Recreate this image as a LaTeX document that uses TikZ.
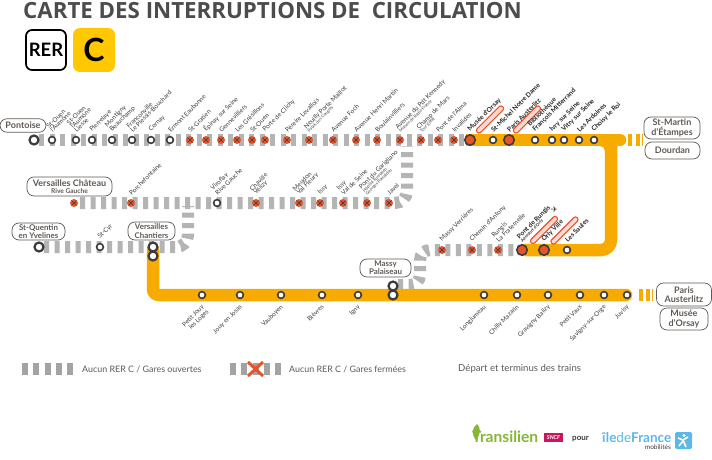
\documentclass[tikz,border=0pt]{standalone}
\usepackage{fontspec}
\setmainfont{Lato}
\newfontfamily\titlefont{Open Sans}
\newfontfamily\symfont{DejaVu Sans}
\definecolor{rergold}{HTML}{F7AB00}
\definecolor{rerC}{HTML}{FFC800}
\definecolor{tick}{HTML}{B4B4B4}
\definecolor{legtick}{HTML}{A3A3A3}
\definecolor{ink}{HTML}{3C3C3C}
\definecolor{closedred}{HTML}{E8532B}
\definecolor{pillgrey}{HTML}{5E5A56}
\definecolor{tgreen}{HTML}{86B833}
\definecolor{idfblue}{HTML}{5DB7E8}
\definecolor{sncfred}{HTML}{C8175E}
\tikzset{
  goldline/.style={draw=rergold,line width=12.5pt},
  greyline/.style={draw=tick,line width=12pt,dash pattern=on 5pt off 5.5pt},
  halt/.style={circle,draw=ink,fill=white,line width=1.6pt,minimum size=6.8pt,inner sep=0pt},
  bighalt/.style={circle,draw=ink,fill=white,line width=2.2pt,minimum size=9pt,inner sep=0pt},
  shut/.style={circle,fill=closedred,draw=none,minimum size=8pt,inner sep=0pt,
    path picture={\draw[ink,line width=.7pt] (path picture bounding box.center)++(-2.4pt,-2.4pt) -- ++(4.8pt,4.8pt) (path picture bounding box.center)++(-2.4pt,2.4pt) -- ++(4.8pt,-4.8pt);}},
  shutbig/.style={circle,fill=closedred,draw=ink,line width=1.6pt,minimum size=10.5pt,inner sep=0pt},
  lab/.style={rotate=45,anchor=south west,inner sep=0pt,font=\fontsize{6.35}{5.3}\selectfont,text=ink,align=left},
  labb/.style={lab,font=\fontsize{6.6}{5.3}\selectfont\bfseries,text=black!85},
  lablow/.style={rotate=45,anchor=north east,inner sep=0pt,font=\fontsize{6.3}{5.3}\selectfont,text=ink,align=right},
  terminus/.style={draw=pillgrey,rounded corners=7pt,line width=.7pt,fill=white,text=pillgrey,align=center,inner sep=0pt,font=\fontsize{9}{9.4}\selectfont\bfseries},
  termsmall/.style={terminus,font=\fontsize{7.9}{8.2}\selectfont\bfseries},
  redpill/.style={draw=closedred,line width=1.1pt,fill=closedred!22,rounded corners=2.2pt,minimum height=5pt,minimum width=36pt,inner sep=0pt,rotate=45},
  legendtext/.style={anchor=west,inner sep=0pt,text=pillgrey,font=\fontsize{8.9}{10}\selectfont},
  legendline/.style={draw=legtick,line width=12pt,dash pattern=on 6pt off 5.3pt},
}
\newcommand{\sublab}[1]{\\[-1.2pt]{\fontsize{4.2}{4.4}\selectfont #1}}
\newcommand{\stn}[6][lab]{\node[#5] (#2) at (#3,#4) {}; \node[#1] (#2t) at (#3+1,#4-7) {#6};}
\newcommand{\stl}[4]{\node[halt] (#1) at (#2,#3) {}; \node[lablow] (#1t) at (#2-1,#3+9) {#4};}
\newcommand{\goldtick}[3]{\fill[rergold] (#1,#3-6.2) rectangle (#2,#3+6.2);}
\begin{document}
\begin{tikzpicture}[x=1pt,y=-1pt]
\useasboundingbox (0,0) rectangle (712,460);
\fill[white] (0,0) rectangle (712,460);
% title
\node[anchor=west,inner sep=0pt,text=black!70,font=\titlefont\fontsize{22.3}{23}\selectfont\bfseries] (title) at (23,10.5) {CARTE DES INTERRUPTIONS DE\ \ CIRCULATION};
\node[draw=black,line width=1.7pt,rounded corners=6pt,minimum width=40pt,minimum height=40pt,inner sep=0pt,font=\fontsize{18.5}{19}\selectfont\bfseries,text=black] (rer) at (46,50) {RER};
\node[fill=rerC,rounded corners=7pt,minimum width=42pt,minimum height=44pt,inner sep=0pt,font=\fontsize{32}{33}\selectfont\bfseries,text=black] (cc) at (94,50) {C};

% coordinates of the line ends and bends
\coordinate (topA) at (39,140);
\coordinate (topB) at (466,140);
\coordinate (goldA) at (466,140);
\coordinate (goldB) at (620,140);
\coordinate (goldC) at (611,140);
\coordinate (goldD) at (611,250);
\coordinate (goldE) at (525.5,250);
\coordinate (lowA) at (153,250);
\coordinate (lowB) at (153,295);
\coordinate (lowC) at (626,295);
\coordinate (vcA) at (80,203);
\coordinate (vcB) at (407,203);
\coordinate (vcC) at (407,146);
\coordinate (sqA) at (44,247);
\coordinate (sqB) at (188,247);
\coordinate (sqC) at (188,206);
\coordinate (maA) at (398,285);
\coordinate (maB) at (420,285);
\coordinate (maC) at (420,250);
\coordinate (maD) at (519,250);

% grey lines
\draw[greyline] (topA) -- (topB);
\draw[greyline,rounded corners=12pt] (vcA) -- (vcB) -- (vcC);
\draw[greyline,rounded corners=12pt] (sqA) -- (sqB) -- (sqC);
\draw[greyline,rounded corners=10pt] (maA) -- (maB) -- (maC) -- (maD);

% gold lines
\draw[goldline] (goldA) -- (goldB);
\draw[goldline,line cap=round] (goldC) -- (goldB);
\draw[goldline,line cap=round,rounded corners=10pt] (goldC) -- (goldD) -- (goldE);
\fill[rergold] (600,146) -- (605,146) -- (605,151) .. controls (605,148) and (603,146) .. (600,146);
\draw[goldline,line cap=round,rounded corners=6pt] (lowA) -- (lowB) -- (lowC);
\goldtick{628}{632}{140}\goldtick{636}{640}{140}\goldtick{641.5}{642.5}{140}
\goldtick{639}{642.5}{295}\goldtick{646}{650}{295}\goldtick{651.5}{653}{295}

% red pills
\node[redpill] (pillA) at (490,119.5) {};
\node[redpill] (pillB) at (527,119.5) {};
\node[redpill] (pillC) at (544,230) {};
\node[redpill] (pillD) at (564.5,230.5) {};

% top line
\node[bighalt] (pontoise) at (34,140) {};
\stn{s1}{52}{140}{halt}{St-Ouen\\l'Aumône}
\stn{s2}{76}{140}{halt}{St-Ouen\\l'Aumône\\Liesse}
\stn{s3}{92}{140}{halt}{Pierrelaye}
\stn{s4}{112}{140}{halt}{Montigny\\Beauchamp}
\stn{s5}{132}{140}{halt}{Franconville\\Le Plessis-Bouchard}
\stn{s6}{151}{140}{halt}{Cernay}
\stn{s7}{170}{140}{halt}{Ermont Eaubonne}
\stn{s8}{190}{140}{shut}{St-Gratien}
\stn{s9}{206}{140}{shut}{Épinay sur Seine}
\stn{s10}{221}{140}{shut}{Gennevilliers}
\stn{s11}{237}{140}{shut}{Les Grésillons}
\stn{s12}{252}{140}{shut}{St-Ouen}
\stn{s13}{265}{140}{shut}{Porte de Clichy}
\stn{s14}{287}{140}{shut}{Péreire Levallois}
\stn{s15}{309}{140}{shut}{Neuilly Porte Maillot\sublab{Palais des Congrès}}
\stn{s16}{333}{140}{shut}{Avenue Foch}
\stn{s17}{356}{140}{shut}{Avenue Henri Martin}
\stn{s18}{377}{140}{shut}{Boulainvilliers}
\stn{s19}{400}{140}{shut}{Avenue du Pdt Kennedy\sublab{Maison de Radio France}}
\stn{s20}{421}{140}{shut}{Champ de Mars\sublab{Tour Eiffel}}
\stn{s21}{438}{140}{shut}{Pont de l'Alma}
\stn{s22}{454}{140}{shut}{Invalides}
\stn[labb]{s23}{470}{140}{shutbig}{Musée d'Orsay}
\stn[labb]{s24}{493}{140}{halt}{St-Michel Notre Dame}
\stn[labb]{s25}{509}{140}{shutbig}{Paris Austerlitz}
\stn[labb]{s26}{535}{140}{halt}{Bibliothèque\\François Mitterrand}
\stn[labb]{s27}{552}{140}{halt}{Ivry sur Seine}
\stn[labb]{s28}{564}{140}{halt}{Vitry sur Seine}
\stn[labb]{s29}{579}{140}{halt}{Les Ardoines}
\stn[labb]{s30}{594}{140}{halt}{Choisy le Roi}

% Versailles Chateau line
\node[shut] (v0) at (74,203) {};
\stn{v1}{131}{203}{shut}{Porchefontaine}
\stn{v2}{217}{203}{halt}{Viroflay\\Rive Gauche}
\stn{v3}{256}{203}{shut}{Chaville\\Vélizy}
\stn{v4}{299}{203}{shut}{Meudon\\Val Fleury}
\stn{v5}{320}{203}{shut}{Issy}
\stn{v6}{343}{203}{shut}{Issy\\Val de Seine}
\stn{v7}{367}{203}{shut}{Pont du Garigliano\sublab{Hôpital Européen}\sublab{Georges Pompidou}}
\stn{v8}{389}{203}{shut}{Javel}

% St-Quentin line
\node[bighalt] (q0) at (39,247) {};
\stn{q1}{100}{247}{halt}{St-Cyr}
\node[bighalt] (q2) at (153,247) {};
\node[bighalt] (q3) at (153,256) {};

% Massy branch
\stn{m1}{442}{250}{shut}{Massy Verrières}
\stn{m2}{472}{250}{shut}{Chemin d'Antony}
\stn{m3}{498}{250}{shut}{Rungis\\La Fraternelle}
\stn[labb]{m4}{522}{250}{shutbig}{Pont de Rungis\sublab{Aéroport d'Orly}}
\stn[labb]{m5}{544}{250}{shutbig}{Orly Ville}
\stn[labb]{m6}{567}{250}{halt}{Les Saules}
\node[inner sep=0pt,text=ink,font=\symfont\fontsize{8}{8}\selectfont] (plane) at (554.5,210) {✈};

% lower line
\stl{b1}{202}{295}{Petit Jouy\\les Loges}
\stl{b2}{240}{295}{Jouy en Josas}
\stl{b3}{281}{295}{Vauboyen}
\stl{b4}{322}{295}{Bièvres}
\stl{b5}{358}{295}{Igny}
\node[bighalt] (massyA) at (393,286) {};
\node[bighalt] (massyB) at (393,295) {};
\stl{b6}{484}{295}{Longjumeau}
\stl{b7}{517}{295}{Chilly Mazarin}
\stl{b8}{548}{295}{Gravigny Balizy}
\stl{b9}{580}{295}{Petit Vaux}
\stl{b10}{604}{295}{Savigny-sur-Orge}
\stl{b11}{627}{295}{Juvisy}

% terminus pills
\node[terminus,minimum width=46pt,minimum height=13.5pt] (tp1) at (23,125.5) {Pontoise};
\node[terminus,minimum width=85pt,minimum height=19pt] (tp2) at (69.5,186.5) {Versailles Château\\[-2pt]{\fontsize{6.6}{7}\selectfont Rive Gauche}};
\node[termsmall,minimum width=53pt,minimum height=17pt] (tp3) at (38.5,231.5) {St-Quentin\\en Yvelines};
\node[termsmall,minimum width=47pt,minimum height=18pt] (tp4) at (151.5,231) {Versailles\\Chantiers};
\node[termsmall,minimum width=51pt,minimum height=18pt] (tp5) at (385.5,268) {Massy\\Palaiseau};
\node[terminus,minimum width=56pt,minimum height=22pt] (tp6) at (672,128) {St-Martin\\d'Étampes};
\node[terminus,minimum width=55pt,minimum height=17pt] (tp7) at (672.5,150.5) {Dourdan};
\node[terminus,minimum width=55pt,minimum height=23pt] (tp8) at (684,294.5) {Paris\\Austerlitz};
\node[terminus,minimum width=48pt,minimum height=22pt] (tp9) at (684,319) {Musée\\d'Orsay};

% legend
\coordinate (legA) at (22,369);
\coordinate (legB) at (76,369);
\coordinate (legC) at (230,369);
\coordinate (legD) at (284,369);
\draw[legendline] (legA) -- (legB);
\draw[legendline] (legC) -- (legD);
\node[legendtext] (leg1) at (82,369) {Aucun RER C / Gares ouvertes};
\coordinate (xA) at (248,362);
\coordinate (xB) at (263,376);
\coordinate (xC) at (263,362);
\coordinate (xD) at (248,376);
\draw[closedred,line width=3pt] (xA) -- (xB) (xC) -- (xD);
\node[legendtext] (leg2) at (289,369) {Aucun RER C / Gares fermées};
\node[legendtext,font=\fontsize{9.6}{10}\selectfont] (leg3) at (458,369) {Départ et terminus des trains};

% logos
\fill[tgreen] (476,440) .. controls (471,434) and (472,428) .. (477,424) .. controls (481,428) and (481,434) .. (476,440);
\node[anchor=west,inner sep=0pt,text=tgreen,font=\fontsize{15.6}{16}\selectfont\bfseries] (transilien) at (472,437) {Transilien};
\node[fill=sncfred,minimum width=19pt,minimum height=9pt,inner sep=0pt,text=white,font=\fontsize{5.5}{6}\selectfont\bfseries\itshape] (sncf) at (553.5,437.5) {SNCF};
\node[anchor=west,inner sep=0pt,text=ink,font=\fontsize{8}{8}\selectfont\bfseries] (pour) at (572,439) {pour};
\node[anchor=west,inner sep=0pt,text=idfblue,font=\fontsize{13.5}{14}\selectfont\bfseries] (idf) at (602,437.5) {île{\fontseries{l}\selectfont de}France};
\node[anchor=east,inner sep=0pt,text=ink,font=\fontsize{6.5}{7}\selectfont] (mob) at (671,447.5) {mobilités};
\node[fill=idfblue,rounded corners=1.5pt,minimum width=17pt,minimum height=17pt,inner sep=0pt] (idfbox) at (683.5,440.5) {};
\fill[white] (684,435.5) circle (1.6pt);
\draw[white,line width=1.6pt] (678,438) -- (683,440) -- (688,437) (683,440) -- (686,447) (683,441) -- (679,446);
\end{tikzpicture}
\end{document}
